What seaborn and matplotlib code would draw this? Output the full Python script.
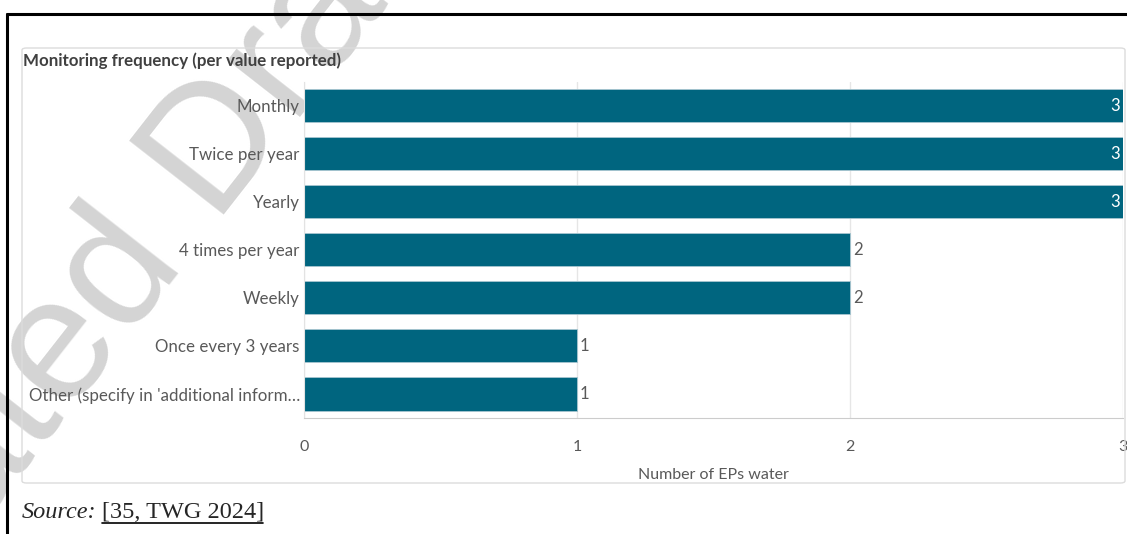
import pandas as pd
import matplotlib.pyplot as plt
import seaborn as sns
from matplotlib.patches import FancyBboxPatch
from matplotlib.lines import Line2D

# ---------------- DATA ----------------
categories = [
    "Monthly",
    "Twice per year",
    "Yearly",
    "4 times per year",
    "Weekly",
    "Once every 3 years",
    "Other (specify in 'additional inform\u2026",
]
counts = [3, 3, 3, 2, 2, 1, 1]
x_ticks = [0, 1, 2, 3]

df = pd.DataFrame({"frequency": categories, "count": counts})

# ---------------- STYLE ----------------
sns.set_style("white")
plt.rcParams["font.family"] = ["Lato", "DejaVu Sans"]

W, H = 1127, 534
fig = plt.figure(figsize=(W / 100, H / 100), dpi=100)

# watermark (behind everything)
fig.text(0.07, 0.385, "Updated Draft", rotation=52, fontsize=126,
         family=["Liberation Sans", "DejaVu Sans"], color="#d4d4d4",
         ha="center", va="center", zorder=-5)

# outer document frame
fig.add_artist(Line2D([7 / W, 1.0], [1 - 14 / H, 1 - 14 / H], color="black", lw=2.2))
fig.add_artist(Line2D([7 / W, 7 / W], [0, 1 - 14 / H], color="black", lw=2.2))

# chart panel
panel = FancyBboxPatch((22 / W, 1 - 483 / H), (1125 - 22) / W, (483 - 48) / H,
                       boxstyle="round,pad=0,rounding_size=0.004",
                       transform=fig.transFigure, facecolor="none",
                       edgecolor="#dcdcdc", lw=1.0, zorder=1)
fig.add_artist(panel)

# ---------------- PLOT ----------------
ax = fig.add_axes([304 / W, 116 / H, 819 / W, 336.5 / H])
ax.patch.set_alpha(0)
sns.barplot(data=df, x="count", y="frequency", orient="h", color="#00657f",
            width=0.69, edgecolor="#a8c6d0", linewidth=0.6, saturation=1, ax=ax)

ax.set_xlim(0, 3)
ax.set_xticks(x_ticks)
ax.grid(axis="x", color="#e6e6e6", lw=1, zorder=0)
ax.set_axisbelow(True)
for s in ["top", "right"]:
    ax.spines[s].set_visible(False)
ax.spines["bottom"].set_color("#cccccc")
ax.spines["left"].set_color("#e3e3e3")

ax.tick_params(axis="x", length=5, color="#cccccc", pad=11, labelsize=11.5, labelcolor="#595959")
ax.tick_params(axis="y", length=0, pad=3, labelsize=12.2, labelcolor="#595959")
ax.set_ylabel("")
ax.set_xlabel("Number of EPs water", fontsize=11.5, color="#595959", labelpad=10)

# value labels
for i, v in enumerate(counts):
    if v >= 3:
        ax.text(v - 0.012, i, str(v), ha="right", va="center", color="white", fontsize=12)
    else:
        ax.text(v + 0.01, i, str(v), ha="left", va="center", color="#595959", fontsize=12)

# title
fig.text(23 / W, 1 - 61 / H, "Monitoring frequency (per value reported)", fontsize=12.2,
         fontweight="bold", color="#404040", ha="left", va="center")

# source line
fig.text(22 / W, 1 - 513 / H, "Source:", fontsize=17.5, style="italic",
         family=["Liberation Serif", "DejaVu Serif"], ha="left", va="center")
fig.text(102 / W, 1 - 513 / H, "[35, TWG 2024]", fontsize=17.5,
         family=["Liberation Serif", "DejaVu Serif"], ha="left", va="center")
fig.add_artist(Line2D([102 / W, 263 / W], [1 - 523 / H, 1 - 523 / H], color="black", lw=1.2))

fig.savefig("out.png", dpi=100)
